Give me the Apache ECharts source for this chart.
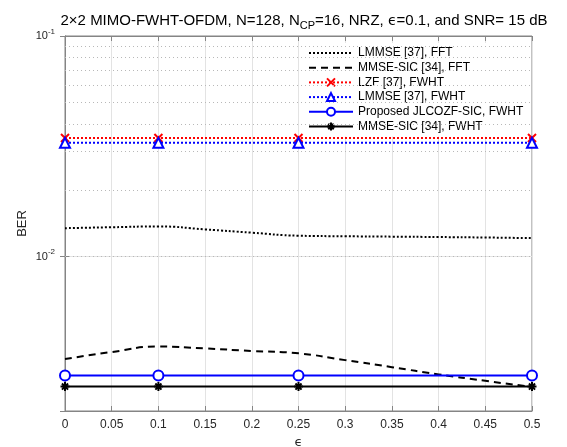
<!DOCTYPE html>
<html><head><meta charset="utf-8">
<script src="https://cdn.jsdelivr.net/npm/echarts@6/dist/echarts.min.js"></script>
<style>html,body{margin:0;padding:0;background:#fff}#c{width:567px;height:447px}</style>
</head><body><div id="c"></div>
<script>
// ---- data ----
const xMarked = [0, 0.1, 0.25, 0.5];
const xFine = [0, 0.05, 0.1, 0.15, 0.2, 0.25, 0.3, 0.35, 0.4, 0.45, 0.5];
const lmmseFft = [0.01347, 0.0136, 0.01371, 0.0133, 0.01285, 0.01245, 0.01238, 0.01233, 0.01228, 0.01222, 0.01214];
const mmseSicFft = [0.00344, 0.0037, 0.00392, 0.00384, 0.00374, 0.00365, 0.0034, 0.00316, 0.00293, 0.00274, 0.00257];
const lzfFwht = [0.0345, 0.0345, 0.0345, 0.0345];
const lmmseFwht = [0.0328, 0.0328, 0.0328, 0.0328];
const proposedFwht = [0.0029, 0.0029, 0.0029, 0.0029];
const mmseSicFwht = [0.00258, 0.00258, 0.00258, 0.00258];
const seriesNames = ['LMMSE [37], FFT', 'MMSE-SIC [34], FFT', 'LZF [37], FWHT', 'LMMSE [37], FWHT', 'Proposed JLCOZF-SIC, FWHT', 'MMSE-SIC [34], FWHT'];
const xTicks = [0, 0.05, 0.1, 0.15, 0.2, 0.25, 0.3, 0.35, 0.4, 0.45, 0.5];
const yMinorGrid = [0.003, 0.004, 0.005, 0.006, 0.007, 0.008, 0.009, 0.02, 0.03, 0.04, 0.05, 0.06, 0.07, 0.08, 0.09];

const pair = (xs, ys) => xs.map((x, i) => [x, ys[i]]);
const FONT = 'Liberation Sans, Arial, sans-serif';
const TXT = '#262626';
const AX = '#858585';
const crossPath = 'path://M0,0L10,10M10,0L0,10';
const starPath = 'path://M5,0L5,10M0,5L10,5M1.6,1.6L8.4,8.4M8.4,1.6L1.6,8.4';

function logLabel(v) {
  const e = Math.log10(v);
  if (Math.abs(e - Math.round(e)) > 1e-6) return '';
  return '{b|10}{s|' + Math.round(e) + '}';
}
const richLab = {
  b: {fontSize: 11, fontFamily: FONT, color: TXT},
  s: {fontSize: 8, fontFamily: FONT, color: TXT, padding: [0, 0, 9, 0]}
};

const chart = echarts.init(document.getElementById('c'), null, {renderer: 'canvas'});
chart.setOption({
  animation: false,
  backgroundColor: '#fff',
  title: {
    text: '2×2 MIMO-FWHT-OFDM, N=128, N{sub|CP}=16, NRZ, {e|ϵ}=0.1, and SNR= 15 dB',
    left: 299, top: 6, textAlign: 'center',
    textStyle: {
      fontSize: 15, fontWeight: 'normal', fontFamily: FONT, color: '#000',
      rich: {
        sub: {fontSize: 11, fontFamily: FONT, color: '#000', padding: [9, 0, 0, 0]},
        e: {fontSize: 14, fontFamily: 'DejaVu Sans', color: '#000'}
      }
    }
  },
  grid: {left: 65, right: 35, top: 36, bottom: 36, show: true, borderColor: AX, borderWidth: 1,
    containLabel: false, outerBoundsMode: 'none'},
  legend: {
    orient: 'vertical', left: 304, top: 43, itemWidth: 44, itemHeight: 10, itemGap: 2.7,
    backgroundColor: '#fff', padding: [4, 4, 4, 4],
    textStyle: {fontSize: 12, fontFamily: FONT, color: '#000'},
    data: seriesNames.map((n, i) => i < 2 ? {name: n, itemStyle: {opacity: 0}} : {name: n})
  },
  xAxis: [{
    type: 'value', min: 0, max: 0.5, interval: 0.05,
    name: 'ϵ', nameLocation: 'middle', nameGap: 25, nameMoveOverlap: false,
    nameTextStyle: {fontSize: 13, fontFamily: 'DejaVu Sans', color: TXT},
    axisLine: {show: true, lineStyle: {color: AX}},
    axisTick: {show: true, inside: true, length: 5, lineStyle: {color: AX}},
    axisLabel: {fontSize: 12, fontFamily: FONT, color: TXT, margin: 8,
      formatter: v => { const t = xTicks.find(x => Math.abs(x - v) < 1e-9); return t === undefined ? '' : String(t); }},
    splitLine: {show: true, lineStyle: {color: '#e3e3e3', width: 1}}
  }, {
    type: 'value', position: 'top', min: 0, max: 0.5, interval: 0.05,
    axisLine: {show: true, lineStyle: {color: AX}},
    axisTick: {show: true, inside: true, length: 5, lineStyle: {color: AX}},
    axisLabel: {show: false}, splitLine: {show: false}
  }],
  yAxis: [{
    type: 'log', logBase: 10, min: 0.002, max: 0.1,
    name: 'BER', nameLocation: 'middle', nameGap: 36, nameMoveOverlap: false,
    nameTextStyle: {fontSize: 13, fontFamily: FONT, color: TXT},
    axisLine: {show: true, lineStyle: {color: AX}},
    axisTick: {show: true, inside: true, length: 5, lineStyle: {color: AX}},
    axisLabel: {formatter: logLabel, rich: richLab, margin: 10},
    splitLine: {show: true, lineStyle: {color: '#e3e3e3', width: 1}}
  }, {
    type: 'log', logBase: 10, min: 0.002, max: 0.1, position: 'right',
    axisLine: {show: true, lineStyle: {color: AX}},
    axisTick: {show: true, inside: true, length: 5, lineStyle: {color: AX}},
    axisLabel: {show: false}, splitLine: {show: false}
  }],
  series: [
    {
      name: seriesNames[0], type: 'line', data: pair(xFine, lmmseFft), smooth: true,
      symbol: 'none', color: '#000', lineStyle: {color: '#000', width: 2, type: [2, 2]}, z: 3,
      markLine: {
        silent: true, symbol: ['none', 'none'], label: {show: false},
        lineStyle: {color: '#b8b8b8', width: 1, type: [1, 3]},
        data: yMinorGrid.map(v => ({yAxis: v}))
      }
    },
    {
      name: seriesNames[1], type: 'line', data: pair(xFine, mmseSicFft), smooth: true,
      symbol: 'none', color: '#000', lineStyle: {color: '#000', width: 2, type: [7, 5]}, z: 4
    },
    {
      name: seriesNames[2], type: 'line', data: pair(xMarked, lzfFwht),
      symbol: crossPath, symbolSize: 8, showSymbol: true, color: '#ff0000',
      itemStyle: {color: '#ff0000', borderColor: '#ff0000', borderWidth: 2},
      lineStyle: {color: '#ff0000', width: 2, type: [2, 2]}, z: 5
    },
    {
      name: seriesNames[3], type: 'line', data: pair(xMarked, lmmseFwht),
      symbol: 'triangle', symbolSize: 10, showSymbol: true, color: '#0000ff',
      itemStyle: {color: '#fff', borderColor: '#0000ff', borderWidth: 2},
      lineStyle: {color: '#0000ff', width: 2, type: [2, 2]}, z: 6
    },
    {
      name: seriesNames[4], type: 'line', data: pair(xMarked, proposedFwht),
      symbol: 'circle', symbolSize: 10, showSymbol: true, color: '#0000ff',
      itemStyle: {color: '#fff', borderColor: '#0000ff', borderWidth: 2},
      lineStyle: {color: '#0000ff', width: 2}, z: 7
    },
    {
      name: seriesNames[5], type: 'line', data: pair(xMarked, mmseSicFwht),
      symbol: starPath, symbolSize: 9, showSymbol: true, color: '#000',
      itemStyle: {color: '#000', borderColor: '#000', borderWidth: 2},
      lineStyle: {color: '#000', width: 2}, z: 8
    }
  ]
});
</script></body></html>
